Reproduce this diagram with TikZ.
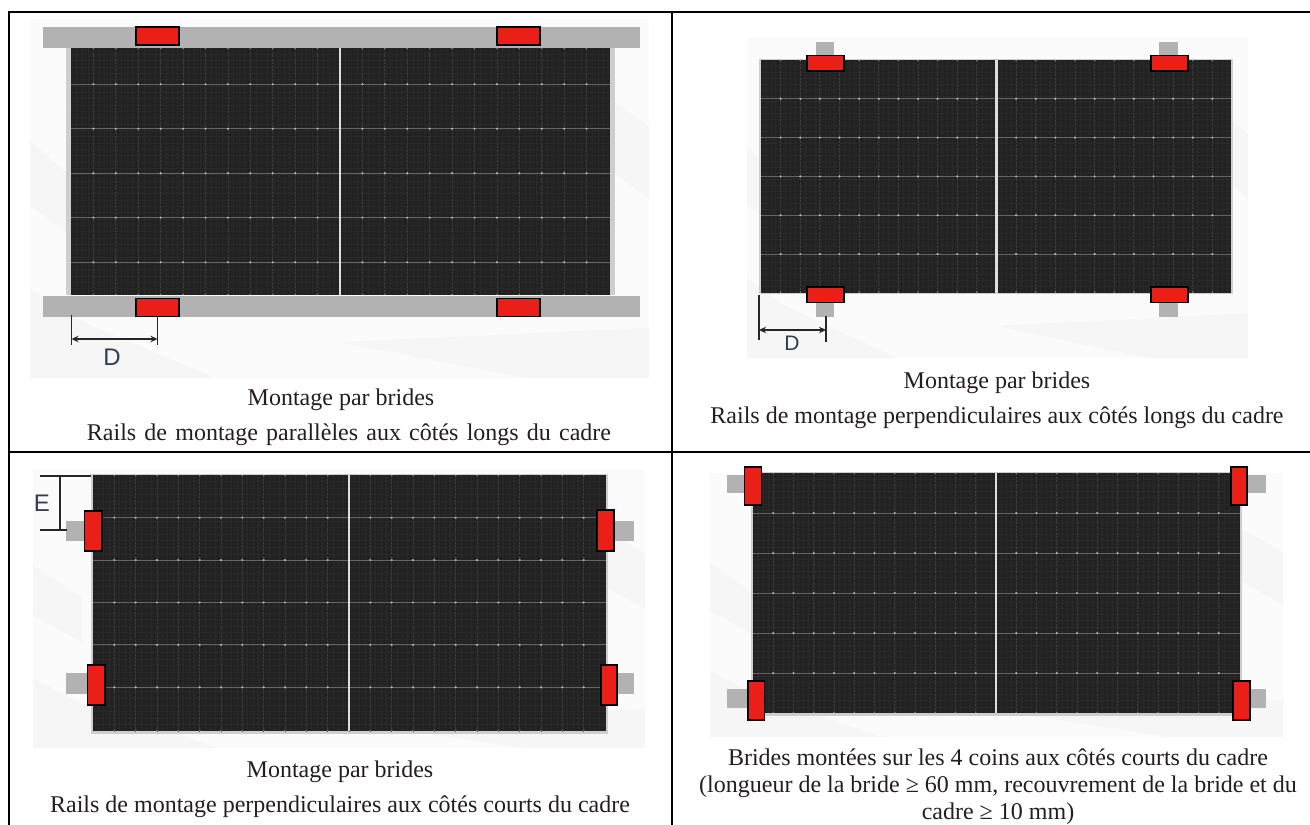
\documentclass[tikz,border=0pt]{standalone}
\usepackage{fontspec}
\setmainfont{Liberation Serif}
\setsansfont{Liberation Sans}
\usetikzlibrary{arrows.meta}
\definecolor{cellc}{HTML}{222222}
\definecolor{railc}{HTML}{B2B2B2}
\definecolor{clampc}{HTML}{EA1F17}
\definecolor{framec}{HTML}{CFCDCD}
\definecolor{bgc}{HTML}{FBFBFB}
\definecolor{bgshade}{HTML}{F6F6F6}
\definecolor{inkc}{HTML}{231F20}
\definecolor{dimtext}{HTML}{2F3D55}
\tikzset{
  table line/.style={draw=black,line width=2pt},
  rail/.style={fill=railc,draw=none},
  clamp/.style={fill=clampc,draw=black,line width=1.3pt},
  busbar/.style={draw=white!30!cellc,line width=.9pt},
  finger/.style={draw=white!12!cellc,line width=.8pt},
  fine/.style={draw=white!3!cellc,line width=.5pt},
  gap/.style={fill=white!85!cellc,draw=none},
  dim/.style={draw=black!85,line width=1.1pt},
  dimarrow/.style={draw=black!85,line width=1.1pt,{Stealth[length=7pt,width=6.5pt]}-{Stealth[length=7pt,width=6.5pt]}},
  dimlabel/.style={font=\sffamily\fontsize{24}{24}\selectfont,text=dimtext,inner sep=0pt},
  captext/.style={font=\fontsize{24}{28}\selectfont,text=inkc,anchor=base,inner sep=0pt}
}
% \backdrop{x0}{y0}{x1}{y1}: pale photo background with soft diagonal shades
\newcommand{\backdrop}[4]{%
  \fill[bgc] (#1,#2) rectangle (#3,#4);
  \pgfmathsetmacro{\bw}{#3-#1}
  \pgfmathsetmacro{\bh}{#4-#2}
  \fill[bgshade] (#1,{#2+.34*\bh}) -- ({#1+.08*\bw},{#2+.46*\bh}) -- ({#1+.08*\bw},{#2+.62*\bh}) -- (#1,{#2+.52*\bh}) -- cycle;
  \fill[bgshade] (#1,{#2+.75*\bh}) -- ({#1+.08*\bw},{#2+.84*\bh}) -- ({#1+.3*\bw},#4) -- (#1,#4) -- cycle;
  \fill[bgshade] (#3,{#2+.3*\bh}) -- ({#3-.08*\bw},{#2+.2*\bh}) -- ({#3-.08*\bw},{#2+.4*\bh}) -- (#3,{#2+.5*\bh}) -- cycle;
  \fill[bgshade] (#3,{#2+.86*\bh}) -- ({#3-.5*\bw},{#2+.9*\bh}) -- ({#3-.2*\bw},#4) -- (#3,#4) -- cycle;
}
% \solar{x0}{y0}{x1}{y1}{split}{first row line}{row spacing}: one dark module
\newcommand{\solar}[7]{%
  \fill[cellc] (#1,#2) rectangle (#3,#4);
  \pgfmathsetmacro{\cw}{(#5-#1)/12}
  \foreach \k in {1,...,95}{
    \draw[fine] ({#1+\k*\cw/4},#2) -- ({#1+\k*\cw/4},#4);
  }
  \foreach \k in {1,...,38}{
    \draw[fine] (#1,{#2+\k*(#4-#2)/39}) -- (#3,{#2+\k*(#4-#2)/39});
  }
  \foreach \i in {1,...,23}{
    \draw[finger,dash pattern=on 2pt off 1.5pt] ({#1+\i*\cw},#2) -- ({#1+\i*\cw},#4);
  }
  \foreach \j in {0,...,4}{
    \draw[busbar] (#1,{#6+\j*#7}) -- (#3,{#6+\j*#7});
    \foreach \i in {1,...,23}{
      \fill[white!68!cellc] ({#1+\i*\cw},{#6+\j*#7}) circle (1.2pt);
    }
  }
  \foreach \i in {1,...,23}{
    \fill[white!40!cellc] ({#1+\i*\cw},#4-.5) circle (.9pt);
    \fill[white!40!cellc] ({#1+\i*\cw},#2+.5) circle (.9pt);
  }
  \fill[gap] (#5-1.2,#2) rectangle (#5+1.2,#4);
}
\begin{document}
\begin{tikzpicture}[x=1pt,y=-1pt]
\useasboundingbox (0,0) rectangle (1310,825);
\fill[white] (0,0) rectangle (1310,825);
% panel 1
\backdrop{30}{19}{649}{378}
\fill[framec] (66,48) rectangle (615,295);
\solar{71}{48}{610}{295}{340}{84.2}{44.5}
\fill[rail] (42.5,26.5) rectangle (640,47.5);
\fill[rail] (42.5,296) rectangle (640,317);
\draw[clamp] (136,27) rectangle (179,45);
\draw[clamp] (497,27) rectangle (540,45);
\draw[clamp] (136,298.3) rectangle (179,316.5);
\draw[clamp] (497,298.3) rectangle (540,316.5);
\coordinate (d1a) at (71.5,315);
\coordinate (d1b) at (71.5,345);
\coordinate (d1c) at (157.5,316.5);
\coordinate (d1d) at (157.5,345);
\coordinate (d1l) at (71.5,339);
\coordinate (d1r) at (157.5,339);
\draw[dim] (d1a) -- (d1b);
\draw[dim] (d1c) -- (d1d);
\draw[dimarrow] (d1l) -- (d1r);
\node[dimlabel] (dlabel1) at (112,357) {D};
\node[captext] (cap1a) at (341,405.7) {Montage par brides};
\node[captext] (cap1b) at (349,440) {\spaceskip=8.2pt Rails de montage parallèles aux côtés longs du cadre};
% panel 2
\backdrop{747}{38}{1248}{358}
\fill[framec] (758.5,58.5) rectangle (1233,294);
\solar{761}{60}{1231}{292.5}{996.5}{98.8}{38.8}
\fill[rail] (816,41.5) rectangle (834,56);
\fill[rail] (1159,41.5) rectangle (1178,56);
\fill[rail] (816,302) rectangle (834,316.7);
\fill[rail] (1159,302) rectangle (1178,316.7);
\draw[clamp] (807,55.5) rectangle (844,71);
\draw[clamp] (1151,55.5) rectangle (1188,71);
\draw[clamp] (807,287) rectangle (844,302.5);
\draw[clamp] (1151,287) rectangle (1188,302.5);
\coordinate (d2a) at (759,295);
\coordinate (d2b) at (759,340);
\coordinate (d2c) at (826,316);
\coordinate (d2d) at (826,342);
\coordinate (d2l) at (759,330);
\coordinate (d2r) at (826,330);
\draw[dim] (d2a) -- (d2b);
\draw[dim] (d2c) -- (d2d);
\draw[dimarrow] (d2l) -- (d2r);
\node[dimlabel,font=\sffamily\fontsize{21}{21}\selectfont] (dlabel2) at (792,343) {D};
\node[captext] (cap2a) at (997,388) {Montage par brides};
\node[captext] (cap2b) at (997,423) {Rails de montage perpendiculaires aux côtés longs du cadre};
% panel 3
\backdrop{33}{470}{645}{748}
\fill[framec] (90.5,474) rectangle (608,733.5);
\solar{93}{475}{606}{731}{349}{517.7}{42.4}
\fill[rail] (66,520.5) rectangle (84.5,541);
\fill[rail] (614,520.5) rectangle (634,541);
\fill[rail] (66,673) rectangle (88,693.5);
\fill[rail] (617,673) rectangle (634,693.5);
\draw[clamp] (84.3,511) rectangle (102,551);
\draw[clamp] (597,510) rectangle (614,551);
\draw[clamp] (87.7,665) rectangle (105,705);
\draw[clamp] (601,665) rectangle (617,705);
\coordinate (e1) at (40,476);
\coordinate (e2) at (91,476);
\coordinate (e3) at (40,530);
\coordinate (e4) at (67,530);
\coordinate (e5) at (60,476);
\coordinate (e6) at (60,530);
\draw[dim] (e1) -- (e2);
\draw[dim] (e3) -- (e4);
\draw[dim] (e5) -- (e6);
\node[dimlabel] (elabel) at (42,503) {E};
\node[captext] (cap3a) at (340,777) {Montage par brides};
\node[captext] (cap3b) at (340,812) {Rails de montage perpendiculaires aux côtés courts du cadre};
% panel 4
\backdrop{710}{473}{1283}{737}
\fill[framec] (751,472) rectangle (1242,716);
\solar{753}{473}{1240}{713}{996}{513}{40}
\fill[rail] (727,475) rectangle (745,493);
\fill[rail] (1247,475) rectangle (1266,493);
\fill[rail] (727,689) rectangle (748,708);
\fill[rail] (1250,689) rectangle (1266,708);
\draw[clamp] (744.5,467) rectangle (761.5,505);
\draw[clamp] (1231,467) rectangle (1247,505);
\draw[clamp] (748,681) rectangle (764.7,720);
\draw[clamp] (1233,681) rectangle (1250,720);
\node[captext] (cap4a) at (998,765) {Brides montées sur les 4 coins aux côtés courts du cadre};
\node[captext] (cap4b) at (998,792.5) {(longueur de la bride ≥ 60 mm, recouvrement de la bride et du};
\node[captext] (cap4c) at (998,819.5) {cadre ≥ 10 mm)};
% table rules
\coordinate (tl) at (9,12);
\coordinate (tr) at (1310,12);
\coordinate (bl) at (9,825);
\coordinate (mt) at (672,12);
\coordinate (mb) at (672,825);
\coordinate (ml) at (9,452);
\coordinate (mr) at (1310,452);
\draw[table line] (bl) -- (tl) -- (tr);
\draw[table line] (mt) -- (mb);
\draw[table line] (ml) -- (mr);
\end{tikzpicture}
\end{document}
